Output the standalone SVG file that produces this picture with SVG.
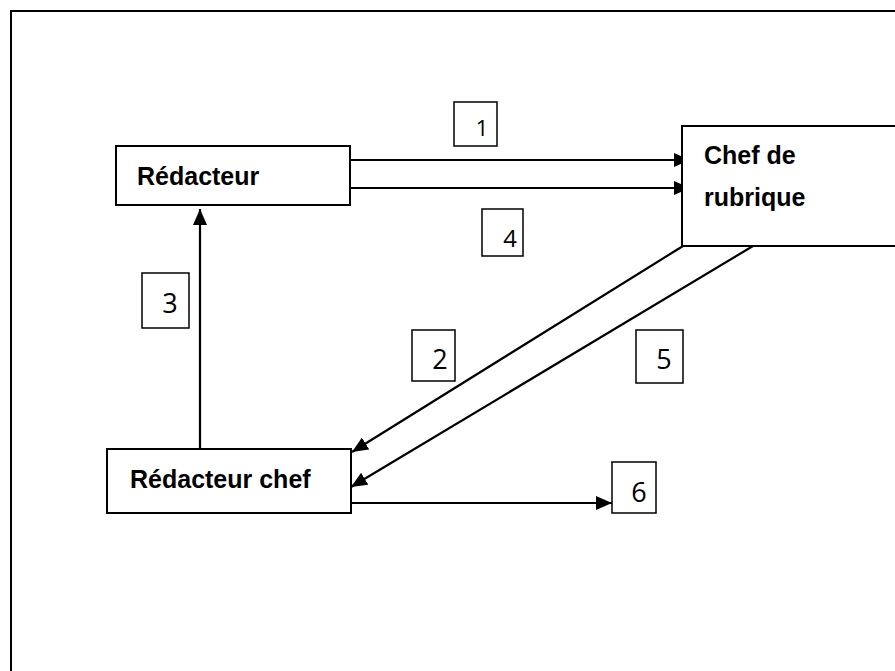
<svg xmlns="http://www.w3.org/2000/svg" width="895" height="671" viewBox="0 0 895 671">
<style>
.box{fill:#fff;stroke:#000;stroke-width:2}
.lbl{fill:#fff;stroke:#000;stroke-width:1.5}
.t{font-family:"Liberation Sans",Arial,sans-serif;font-weight:bold;font-size:25px;fill:#000}
.n{font-family:"Open Sans","Liberation Sans",sans-serif;font-size:27px;fill:#000;text-anchor:middle}
.c{stroke:#000;stroke-width:2.2;fill:none;marker-end:url(#ah)}
</style>
<defs>
<marker id="ah" viewBox="0 0 16 14" refX="16" refY="7" markerWidth="16" markerHeight="14" markerUnits="userSpaceOnUse" orient="auto">
<path d="M0,0 L16,7 L0,14 Z" fill="#000"/>
</marker>
</defs>
<rect width="895" height="671" fill="#fff"/>
<rect x="11" y="11" width="900" height="700" fill="none" stroke="#000" stroke-width="2"/>
<g id="connectors">
<line class="c" x1="350" y1="160" x2="690" y2="160"/>
<line class="c" x1="350" y1="188" x2="690" y2="188"/>
<line class="c" x1="200" y1="449" x2="200" y2="209"/>
<line class="c" x1="683" y1="246" x2="352" y2="452"/>
<line class="c" x1="753" y1="246" x2="351" y2="487"/>
<line class="c" x1="351" y1="503" x2="612" y2="503"/>
</g>
<g id="redacteur">
<rect class="box" x="116" y="146" width="234" height="59"/>
<text class="t" x="137" y="185">Rédacteur</text>
</g>
<g id="chef-rubrique">
<rect class="box" x="682" y="126" width="230" height="120"/>
<text class="t" x="704" y="164">Chef de</text>
<text class="t" x="704" y="206">rubrique</text>
</g>
<g id="redacteur-chef">
<rect class="box" x="107" y="449" width="244" height="64"/>
<text class="t" x="130" y="488">Rédacteur chef</text>
</g>
<g id="label1">
<rect class="lbl" x="454" y="102" width="43" height="44"/>
<text class="n" x="482" y="136" style="font-size:22px">1</text>
</g>
<g id="label2">
<rect class="lbl" x="412" y="330" width="43" height="51"/>
<text class="n" x="440" y="369">2</text>
</g>
<g id="label3">
<rect class="lbl" x="142" y="273" width="47" height="55"/>
<text class="n" x="170" y="313">3</text>
</g>
<g id="label4">
<rect class="lbl" x="482" y="209" width="41" height="47"/>
<text class="n" x="510" y="247" style="font-size:24px">4</text>
</g>
<g id="label5">
<rect class="lbl" x="636" y="330" width="47" height="53"/>
<text class="n" x="664" y="369">5</text>
</g>
<g id="label6">
<rect class="lbl" x="612" y="462" width="44" height="51"/>
<text class="n" x="639" y="502">6</text>
</g>
</svg>
